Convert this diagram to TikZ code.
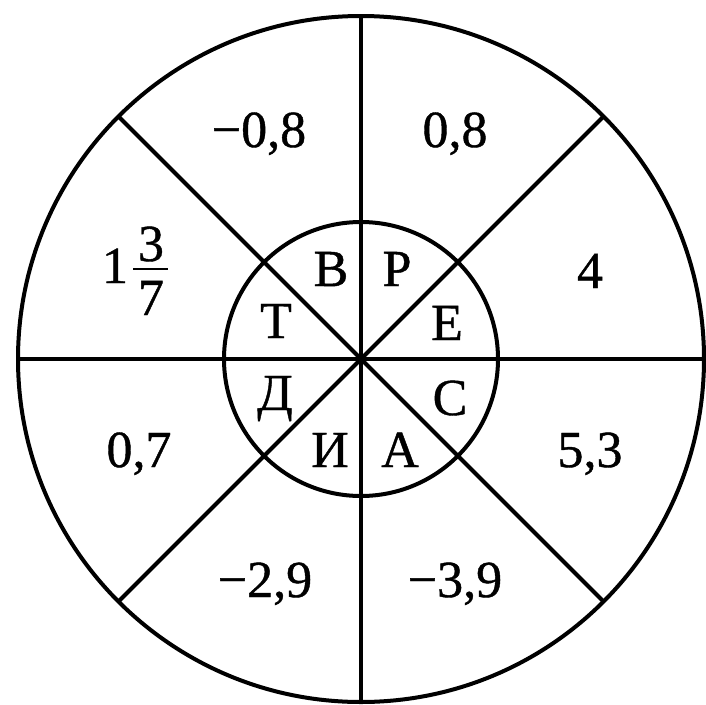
\documentclass[tikz,border=0pt]{standalone}
\usepackage{fontspec}
\setmainfont{Liberation Serif}
\newfontface\heavyserif{Liberation Serif}[FakeBold=0.8]
\usetikzlibrary{calc}
\begin{document}
\begin{tikzpicture}[x=1pt,y=-1pt,
  ring/.style={line width=4pt},
  lbl/.style={font=\heavyserif\fontsize{52}{60}\selectfont, inner sep=0pt, anchor=base},
  fracbar/.style={line width=2.8pt}]
\useasboundingbox (0,0) rectangle (706,704);
\coordinate (O) at (361,359);
\draw[ring] (O) circle[radius=343];
\draw[ring] (O) circle[radius=137];
\foreach \a in {0,45,90,135}
  \draw[ring] ($(O)+(\a:343)$) -- ($(O)+(\a+180:343)$);
% outer numbers
\node[lbl] (m08) at (259,147) {−0,8};
\node[lbl] (p08) at (455,147) {0,8};
\node[lbl] (four) at (590,288) {4};
\node[lbl] (p07) at (139,467) {0,7};
\node[lbl] (p53) at (590,467) {5,3};
\node[lbl] (m29) at (265,597) {−2,9};
\node[lbl] (m39) at (455,597) {−3,9};
% mixed fraction 1 3/7
\node[lbl] (one) at (115,283) {1};
\node[lbl] (num) at (151,261) {3};
\node[lbl] (den) at (151,315) {7};
\coordinate (barL) at (133,269);
\coordinate (barR) at (168,269);
\draw[fracbar] (barL) -- (barR);
% inner letters
\node[lbl] (lB) at (331,286) {В};
\node[lbl] (lR) at (397,286) {Р};
\node[lbl] (lT) at (276,338) {Т};
\node[lbl] (lE) at (447,340) {Е};
\node[lbl] (lD) at (275,410) {Д};
\node[lbl] (lS) at (450,415) {С};
\node[lbl] (lI) at (330,467) {И};
\node[lbl] (lA) at (400,467) {А};
\end{tikzpicture}
\end{document}
